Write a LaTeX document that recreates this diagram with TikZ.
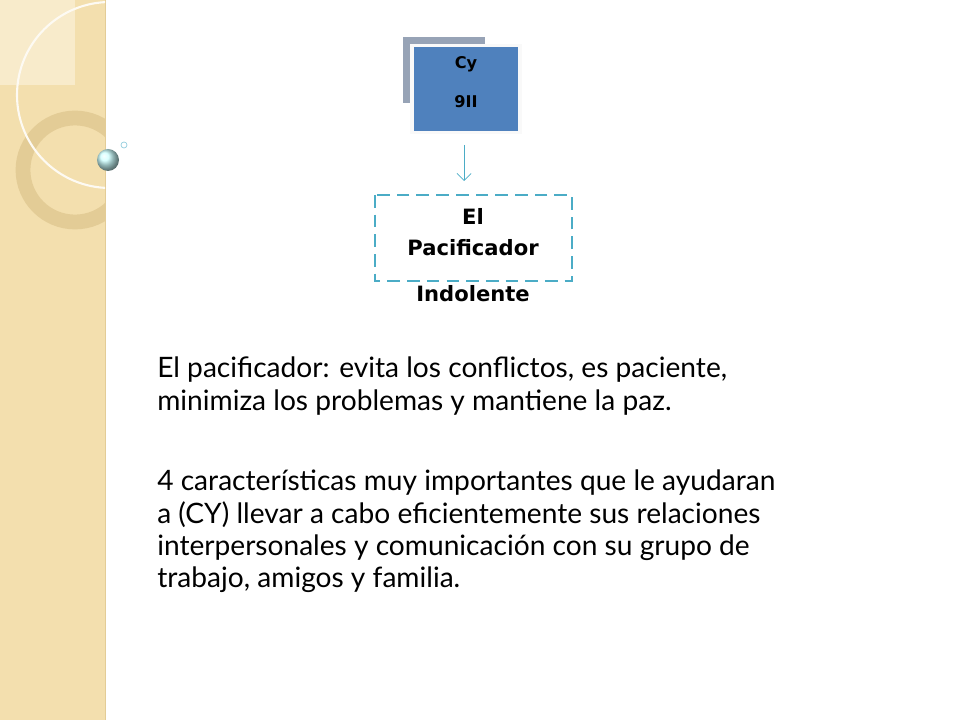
\documentclass[tikz,border=0pt]{standalone}
\usepackage{fontspec}
\setmainfont{Lato}
\newfontfamily\boxfont{DejaVu Sans}
\usetikzlibrary{positioning,arrows.meta}
\definecolor{sand}{HTML}{F3DFAE}
\definecolor{sandlight}{HTML}{F8EBCB}
\definecolor{ringcol}{HTML}{E3CC96}
\definecolor{cyblue}{HTML}{4F81BD}
\definecolor{cygray}{HTML}{97A3B6}
\definecolor{tealline}{HTML}{4BACC6}
\tikzset{
    boxlabel/.style={font=\boxfont\bfseries, align=center},
    bodytext/.style={font=\fontsize{20}{22.8}\selectfont, align=left, anchor=north west, inner sep=0pt}
}
\begin{document}
\begin{tikzpicture}[x=0.025cm,y=-0.025cm]
    \useasboundingbox (0,0) rectangle (960,720);
    % left strip
    \fill[sand] (0,0) rectangle (105,720);
    \draw[ringcol, line width=0.6pt] (105,0) -- (105,720);
    \begin{scope}
        \clip (0,0) rectangle (105,720);
        \fill[sandlight] (0,0) rectangle (75,85);
        \draw[ringcol, line width=10.5pt] (75,170) circle (52);
        \draw[white!85!sand, line width=1.5pt] (110,95) circle (93);
    \end{scope}
    \shade[ball color=cyan!20!white] (108,160) circle (11);
    \draw[tealline!60, line width=0.5pt] (124,145) circle (3);
    % boxes
    \fill[cygray] (403,37) rectangle (485,103);
    \fill[white!95!gray] (410,44) rectangle (522,134);
    \fill[cyblue] (414,47) rectangle (518,131);
    \node[boxlabel, font=\boxfont\bfseries\fontsize{11.5}{13}\selectfont] (cy) at (466,64) {Cy};
    \node[boxlabel, font=\boxfont\bfseries\fontsize{11.5}{13}\selectfont] (nine) at (466,102) {9II};
    \coordinate (top) at (464,145);
    \coordinate (bot) at (464,181);
    \draw[tealline, -{Straight Barb[length=5pt]}, line width=0.5pt] (top) -- (bot);
    \draw[tealline, dash pattern=on 9pt off 5pt, line width=1.8pt] (375,195) rectangle (572,281);
    \node[boxlabel, font=\boxfont\bfseries\fontsize{15}{22}\selectfont] (pac) at (473,232) {El\\Pacificador};
    \node[boxlabel, font=\boxfont\bfseries\fontsize{15}{20}\selectfont] (ind) at (473,294) {Indolente};
    % body
    \node[bodytext] (p1) at (157,357) {El pacificador: evita los conflictos, es paciente,\\minimiza los problemas y mantiene la paz.};
    \node[bodytext] (p2) at (157,470) {4 características muy importantes que le ayudaran\\a (CY) llevar a cabo eficientemente sus relaciones\\interpersonales y comunicación con su grupo de\\trabajo, amigos y familia.};
\end{tikzpicture}
\end{document}
